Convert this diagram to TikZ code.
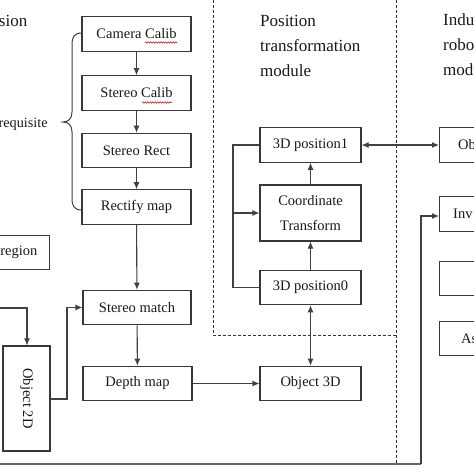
\documentclass[tikz,border=0pt]{standalone}
\usepackage{fontspec}
\setmainfont{Liberation Serif}
\usetikzlibrary{arrows.meta,decorations.pathmorphing}
\tikzset{
  box/.style={draw=black!78, line width=1.1pt, minimum height=34.5pt, inner sep=0pt,
    font=\fontsize{14.5}{17}\selectfont, text=black!90},
  btext/.style={font=\fontsize{14.5}{17}\selectfont, text=black!90, inner sep=0pt},
  link/.style={draw=black!75, line width=1.1pt},
  arr/.style={link, -{Latex[length=7pt,width=6pt]}},
  darr/.style={link, {Latex[length=7pt,width=6pt]}-{Latex[length=7pt,width=6pt]}},
  sep/.style={draw=black!80, line width=1pt, dash pattern=on 3pt off 2pt},
  head/.style={font=\fontsize{17}{20}\selectfont, text=black!90, inner sep=0pt},
  squig/.style={draw=red!75!black, line width=0.5pt, decorate, decoration={snake, amplitude=0.7pt, segment length=2.5pt}}
}
\begin{document}
\begin{tikzpicture}[x=1pt,y=-1pt]
\useasboundingbox (0,0) rectangle (474,474);
\clip (0,0) rectangle (474,474);
\fill[white] (0,0) rectangle (474,474);

% separators
\draw[sep] (213,0) -- (213,335) -- (396,335);
\draw[sep] (396,0) -- (396,464);

% headings
\node[head, anchor=base east] (hvis) at (27.5,26) {sion};
\node[head, font=\fontsize{14.2}{16}\selectfont, anchor=base east] (hpre) at (47.8,127) {requisite};
\node[head, anchor=base west] (hp1) at (260,26) {Position};
\node[head, anchor=base west] (hp2) at (260,51) {transformation};
\node[head, anchor=base west] (hp3) at (260,76) {module};
\node[head, anchor=base west] (hr1) at (443,25) {Indu};
\node[head, anchor=base west] (hr2) at (443,50) {robo};
\node[head, anchor=base west] (hr3) at (443,75) {modu};

% brace
\draw[link, line width=1pt] (82,33) .. controls (74,33) and (72,37) .. (72,45) -- (72,112)
  .. controls (72,119) and (68,122) .. (63,122) .. controls (68,122) and (72,125) .. (72,132)
  -- (72,198) .. controls (72,206) and (74,210) .. (82,210);

% left column
\node[box, minimum width=109pt] (cam) at (136.5,34) {Camera Calib};
\node[box, minimum width=109pt] (stc) at (136.5,93) {Stereo Calib};
\node[box, minimum width=109pt] (str) at (136.5,150.5) {Stereo Rect};
\node[box, minimum width=109pt] (rect) at (136.5,207) {Rectify map};
\node[box, minimum width=108pt] (match) at (137,307.5) {Stereo match};
\node[box, minimum width=109pt] (depth) at (137.5,383.5) {Depth map};
\node[box, minimum width=100pt, anchor=east] (region) at (50,252.5) {};
\node[btext, anchor=east] (regiont) at (37.5,252.5) {region};
\node[box, minimum width=47pt, minimum height=105pt] (obj2d) at (26.5,398.5) {};
\node[btext, rotate=-90] (obj2dt) at (26.5,398.5) {Object 2D};

% squiggles
\draw[squig] (145,42.5) -- (177,42.5);
\draw[squig] (142,102.5) -- (172,102.5);

% middle column
\node[box, minimum width=101pt] (p1) at (310.5,145) {3D position1};
\node[box, minimum width=101pt, minimum height=56pt, align=center,
  font=\fontsize{14.5}{25}\selectfont] (ct) at (310.5,213) {Coordinate\\Transform};
\node[box, minimum width=101pt] (p0) at (310.5,287.5) {3D position0};
\node[box, minimum width=101pt] (o3d) at (310.5,383.5) {Object 3D};

% right column
\node[box, minimum width=100pt, anchor=west] (ob) at (439,145) {};
\node[btext, anchor=west] (obt) at (458,145) {Ob};
\node[box, minimum width=100pt, anchor=west] (inv) at (439,214) {};
\node[btext, anchor=west] (invt) at (453,214) {Inv};
\node[box, minimum width=100pt, anchor=west] (b3) at (439,278.5) {};
\node[box, minimum width=100pt, anchor=west] (as) at (439,338.5) {};
\node[btext, anchor=west] (ast) at (461,338.5) {As};

% connectors
\draw[arr] (cam) -- (stc);
\draw[arr] (stc) -- (str);
\draw[arr] (str) -- (rect);
\draw[arr] (rect) -- (match);
\draw[arr] (match) -- (depth);
\draw[arr] (depth) -- (o3d);
\draw[darr] (p0) -- (o3d);
\draw[arr] (p0) -- (ct);
\draw[arr] (ct) -- (p1);
\draw[darr] (p1) -- (ob);
\coordinate (lt) at (233,145);
\coordinate (lb) at (233,287.5);
\coordinate (lm) at (233,213);
\draw[link] (p1.west) -- (lt) -- (lb) -- (p0.west);
\draw[arr] (lm) -- (ct.west);

\coordinate (in2d) at (0,308);
\coordinate (in2dc) at (27,308);
\draw[arr] (in2d) -- (in2dc) -- (obj2d.north -| in2dc);
\coordinate (o2r) at (67,399);
\draw[arr] (obj2d.east |- o2r) -- (o2r) -- (o2r |- match.west) -- (match.west);

\coordinate (bl) at (0,464);
\coordinate (br) at (421,464);
\draw[draw=black!60, line width=1.3pt] (bl) -- (br);
\draw[arr] (br) -- (421,216) -- (inv.west |- 0,216);
\end{tikzpicture}
\end{document}
